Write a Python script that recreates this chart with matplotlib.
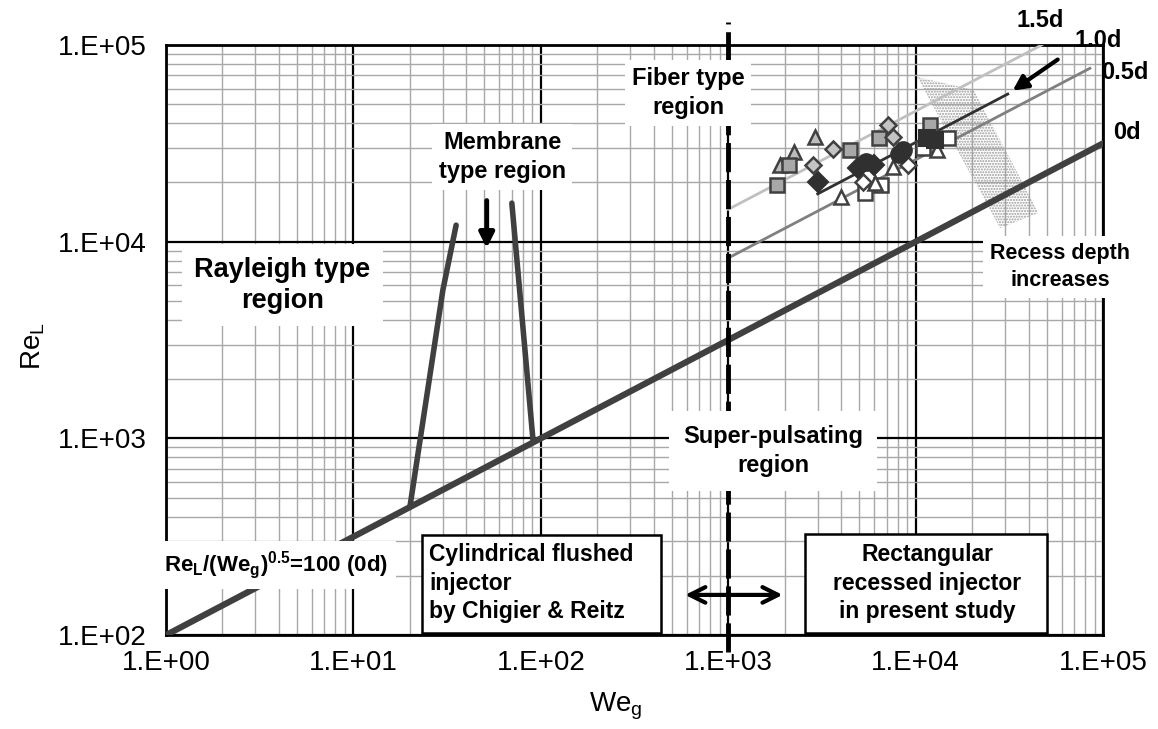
import matplotlib
matplotlib.use('Agg')
import matplotlib.pyplot as plt
from matplotlib.patches import Polygon, Rectangle
from matplotlib.ticker import LogLocator, NullFormatter

plt.rcParams['font.family'] = ['Liberation Sans', 'DejaVu Sans']
plt.rcParams['mathtext.fontset'] = 'custom'
plt.rcParams['mathtext.rm'] = 'Liberation Sans'
plt.rcParams['mathtext.bf'] = 'Liberation Sans:bold'
plt.rcParams['mathtext.it'] = 'Liberation Sans:italic'

# ---------------- data ----------------
x_ticks = [1e0, 1e1, 1e2, 1e3, 1e4, 1e5]
x_tick_labels = ['1.E+00', '1.E+01', '1.E+02', '1.E+03', '1.E+04', '1.E+05']
y_ticks = [1e2, 1e3, 1e4, 1e5]
y_tick_labels = ['1.E+02', '1.E+03', '1.E+04', '1.E+05']

# regime boundary lines (We_g, Re_L)
we_0d = [1, 1e5]
re_0d = [100, 31623]
we_05d = [1000, 85000]
re_05d = [8260, 76100]
we_10d = [3000, 31000]
re_10d = [17500, 56300]
we_15d = [1000, 47000]
re_15d = [14600, 100000]
we_mem_left = [20, 30, 35.3]
re_mem_left = [447, 5680, 12130]
we_mem_right = [70, 91]
re_mem_right = [15700, 954]
we_boundary = [1000, 1000]
re_boundary = [82, 130600]

# measured points
we_tri_grey = [2904, 2244, 1889]
re_tri_grey = [34040, 28580, 24490]
we_sq_grey = [2110, 1821, 4467, 6383, 11940]
re_sq_grey = [24490, 19410, 29240, 33650, 39170]
we_dia_grey = [3624, 2836, 7125, 7574]
re_dia_grey = [29580, 24490, 39170, 34040]
we_dia_black = [3014, 4930, 5998]
re_dia_black = [20090, 23660, 24490]
we_circ_black = [5436, 8100, 8570]
re_circ_black = [25410, 28000, 29240]
we_sq_black = [11500, 12700]
re_sq_black = [33650, 32880]
we_sq_open = [5370, 6536, 10960, 14890]
re_sq_open = [17660, 19410, 29920, 33650]
we_tri_open = [4000, 6073, 7574, 13000]
re_tri_open = [16870, 19860, 23930, 29240]
we_dia_open = [5240, 9104]
re_dia_open = [20090, 24490]

# ---------------- figure ----------------
fig = plt.figure(figsize=(11.58, 7.29), dpi=100)
ax = fig.add_axes([0.1434, 0.1289, 0.8092, 0.8094])
ax.set_xscale('log')
ax.set_yscale('log')
ax.set_xlim(1, 1e5)
ax.set_ylim(1e2, 1e5)

ax.xaxis.set_minor_locator(LogLocator(base=10, subs=range(2, 10)))
ax.yaxis.set_minor_locator(LogLocator(base=10, subs=range(2, 10)))
ax.xaxis.set_minor_formatter(NullFormatter())
ax.yaxis.set_minor_formatter(NullFormatter())
ax.set_xticks(x_ticks)
ax.set_xticklabels(x_tick_labels)
ax.set_yticks(y_ticks)
ax.set_yticklabels(y_tick_labels)
ax.tick_params(which='both', length=0, labelsize=20)
ax.tick_params(axis='x', pad=11)
ax.tick_params(axis='y', pad=14)
ax.set_axisbelow(True)
ax.grid(which='minor', color='#a8a8a8', lw=1.0)
ax.grid(which='major', color='black', lw=1.6)
for s in ax.spines.values():
    s.set_linewidth(2)
    s.set_color('black')

ax.set_xlabel(r'We$_\mathregular{g}$', fontsize=20)
ax.set_ylabel(r'Re$_\mathregular{L}$', fontsize=20)
ax.xaxis.set_label_coords(0.48, -0.095)
ax.yaxis.set_label_coords(-0.127, 0.49)

# stippled "recess depth" band
band = Polygon([(0.8015, 0.9458), (0.8620, 0.9237), (0.9310, 0.7153), (0.8901, 0.6898)],
               closed=True, transform=ax.transAxes, facecolor='none',
               edgecolor='#9a9a9a', hatch='......', lw=0, zorder=2)
ax.add_patch(band)

# lines
ax.plot(we_15d, re_15d, color='#c0c0c0', lw=2, zorder=3)
ax.plot(we_05d, re_05d, color='#808080', lw=2, zorder=3)
ax.plot(we_10d, re_10d, color='#303030', lw=2, zorder=3)
ax.plot(we_0d, re_0d, color='#404040', lw=4.5, zorder=3, solid_capstyle='round')
ax.plot(we_mem_left, re_mem_left, color='#404040', lw=4, zorder=3, solid_capstyle='round')
ax.plot(we_mem_right, re_mem_right, color='#404040', lw=4, zorder=3, solid_capstyle='round')
ax.plot(we_boundary, re_boundary, color='black', lw=3.5, dashes=(6, 1.6), clip_on=False, zorder=3)

# markers
ec = '#404040'
ms = 10
ax.plot(we_tri_grey, re_tri_grey, '^', ms=ms, mfc='#bdbdbd', mec=ec, mew=1.8, ls='none', zorder=5)
ax.plot(we_sq_grey, re_sq_grey, 's', ms=ms, mfc='#a8a8a8', mec=ec, mew=1.8, ls='none', zorder=5)
ax.plot(we_dia_grey, re_dia_grey, 'D', ms=8.5, mfc='#c4c4c4', mec=ec, mew=1.8, ls='none', zorder=5)
ax.plot(we_sq_open, re_sq_open, 's', ms=ms, mfc='white', mec=ec, mew=1.8, ls='none', zorder=5)
ax.plot(we_tri_open, re_tri_open, '^', ms=ms, mfc='white', mec=ec, mew=1.8, ls='none', zorder=5)
ax.plot(we_dia_open, re_dia_open, 'D', ms=8.5, mfc='white', mec=ec, mew=1.8, ls='none', zorder=5)
ax.plot(we_dia_black, re_dia_black, 'D', ms=10, mfc='#303030', mec='#303030', mew=1.5, ls='none', zorder=6)
ax.plot(we_circ_black, re_circ_black, 'o', ms=12, mfc='#303030', mec='#303030', mew=1.5, ls='none', zorder=6)
ax.plot(we_sq_black, re_sq_black, 's', ms=12, mfc='#303030', mec='#303030', mew=1.5, ls='none', zorder=6)

# region labels
wb = dict(facecolor='white', edgecolor='none', pad=5)
ax.text(0.557, 0.919, 'Fiber type\nregion', transform=ax.transAxes, ha='center', va='center',
        fontsize=17, fontweight='bold', bbox=wb, zorder=7, linespacing=1.35)
ax.text(0.3586, 0.81, 'Membrane\ntype region', transform=ax.transAxes, ha='center', va='center',
        fontsize=17, fontweight='bold', bbox=wb, zorder=7, linespacing=1.35)
ax.text(0.1238, 0.593, 'Rayleigh type\nregion', transform=ax.transAxes, ha='center', va='center',
        fontsize=19.5, fontweight='bold', bbox=dict(facecolor='white', edgecolor='none', pad=9),
        zorder=7, linespacing=1.25)
ax.text(0.6478, 0.312, 'Super-pulsating\nregion', transform=ax.transAxes, ha='center', va='center',
        fontsize=17, fontweight='bold', bbox=dict(facecolor='white', edgecolor='none', pad=10),
        zorder=7, linespacing=1.35)
ax.text(0.954, 0.624, 'Recess depth\nincreases', transform=ax.transAxes, ha='center', va='center',
        fontsize=15.5, fontweight='bold', bbox=wb, zorder=7, linespacing=1.35)
ax.text(0.1174, 0.1186, r'$\mathbf{Re_L/(We_g)^{0.5}}$=100 (0d)', transform=ax.transAxes,
        ha='center', va='center', fontsize=16, fontweight='bold',
        bbox=dict(facecolor='white', edgecolor='none', pad=6), zorder=7)

# injector boxes
ax.add_patch(Rectangle((0.2732, 0.0034), 0.2551, 0.166, transform=ax.transAxes,
                       facecolor='white', edgecolor='black', lw=1.8, zorder=7))
ax.text(0.2807, 0.0881, 'Cylindrical flushed\ninjector\nby Chigier & Reitz', transform=ax.transAxes,
        ha='left', va='center', fontsize=16.5, fontweight='bold', zorder=8, linespacing=1.3)
ax.add_patch(Rectangle((0.682, 0.0034), 0.2583, 0.1678, transform=ax.transAxes,
                       facecolor='white', edgecolor='black', lw=1.8, zorder=7))
ax.text(0.8122, 0.0881, 'Rectangular\nrecessed injector\nin present study', transform=ax.transAxes,
        ha='center', va='center', fontsize=16.5, fontweight='bold', zorder=8, linespacing=1.3)

# arrows
ax.annotate('', xy=(0.661, 0.068), xytext=(0.551, 0.068), xycoords='axes fraction',
            arrowprops=dict(arrowstyle='<->', lw=3, color='black', mutation_scale=28), zorder=8)
ax.annotate('', xy=(0.3422, 0.651), xytext=(0.3422, 0.741), xycoords='axes fraction',
            arrowprops=dict(arrowstyle='-|>', lw=3.5, color='black', mutation_scale=22), zorder=8)
ax.annotate('', xy=(0.901, 0.920), xytext=(0.954, 0.978), xycoords='axes fraction',
            arrowprops=dict(arrowstyle='-|>', lw=3, color='black', mutation_scale=22),
            annotation_clip=False, zorder=8)

# depth labels
for lbl, xx, yy in [('1.5d', 0.933, 1.041), ('1.0d', 0.995, 1.008), ('0.5d', 1.0235, 0.953), ('0d', 1.0256, 0.851)]:
    ax.text(xx, yy, lbl, transform=ax.transAxes, ha='center', va='center', fontsize=17,
            fontweight='bold', zorder=9)

fig.savefig('out.png', dpi=100)
